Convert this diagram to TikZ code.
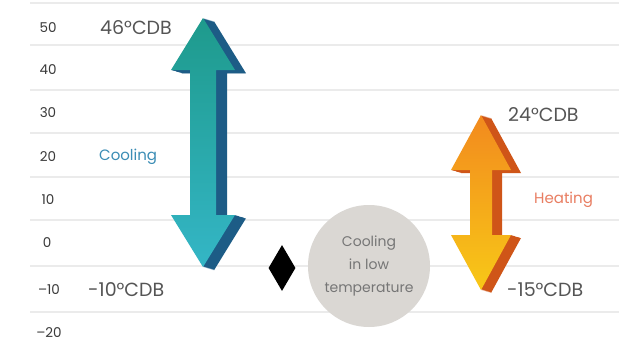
\documentclass[tikz,border=0pt]{standalone}
\usepackage{fontspec}
\setmainfont{Poppins}
\usetikzlibrary{shapes.geometric}
\definecolor{gridc}{HTML}{EBEBEB}
\definecolor{tickc}{HTML}{3A3A3A}
\definecolor{labc}{HTML}{555555}
\definecolor{coolt}{HTML}{3B8DB5}
\definecolor{heatt}{HTML}{E97E62}
\definecolor{tealtop}{HTML}{1E9A8C}
\definecolor{tealbot}{HTML}{34B6C6}
\definecolor{tealside}{HTML}{1D5C86}
\definecolor{orgtop}{HTML}{F28A1E}
\definecolor{orgbot}{HTML}{F8C817}
\definecolor{orgside}{HTML}{CF5518}
\definecolor{circc}{HTML}{DAD7D3}
\definecolor{circt}{HTML}{767676}
\newcommand\dblarrowpath[6]{(#1,#2) -- (#1+#4,#2+#5) -- (#1+#6,#2+#5) -- (#1+#6,#3-#5) -- (#1+#4,#3-#5) -- (#1,#3) -- (#1-#4,#3-#5) -- (#1-#6,#3-#5) -- (#1-#6,#2+#5) -- (#1-#4,#2+#5) -- cycle}
\tikzset{
  gridline/.style={gridc, line width=1.6pt},
  ticklab/.style={text=tickc, font=\fontsize{13.5}{14}\selectfont, anchor=center, inner sep=0},
  templab/.style={text=labc, font=\fontsize{19}{20}\selectfont, inner sep=0},
  modelab/.style={font=\fontsize{15}{16}\selectfont, anchor=west, inner sep=0},
}
\begin{document}
\begin{tikzpicture}[x=1pt,y=-1pt]
\useasboundingbox (0,0) rectangle (619,346);
\fill[white] (0,0) rectangle (619,346);
% grid lines
\foreach \y in {3,45,90,133,177,220,266,312}
  \draw[gridline] (30,\y) -- (619,\y);
% tick labels
\node[ticklab] (t50) at (48,28) {50};
\node[ticklab] (t40) at (48,70) {40};
\node[ticklab] (t30) at (48,113) {30};
\node[ticklab] (t20) at (48,157) {20};
\node[ticklab] (t10) at (48,200) {10};
\node[ticklab] (t0) at (47,243) {0};
\node[ticklab] (tm10) at (49,290) {–10};
\node[ticklab] (tm20) at (49,333) {–20};
% cooling arrow
\foreach \d in {1,...,11}
  \fill[tealside, xshift=\d pt, yshift=-0.3*\d pt] \dblarrowpath{203}{18}{267}{32}{52}{13};
\shade[top color=tealtop, bottom color=tealbot] \dblarrowpath{203}{18}{267}{32}{52}{13};
% heating arrow
\foreach \d in {1,...,10}
  \fill[orgside, xshift=\d pt, yshift=-0.3*\d pt] \dblarrowpath{481}{115}{290}{30}{55}{11};
\shade[top color=orgtop, bottom color=orgbot] \dblarrowpath{481}{115}{290}{30}{55}{11};
% labels
\node[templab, anchor=west] (c46) at (100,28) {46°CDB};
\node[templab, anchor=west] (cm10) at (88,290) {-10°CDB};
\node[templab, anchor=west] (h24) at (508,115) {24°CDB};
\node[templab, anchor=west] (hm15) at (507,290) {-15°CDB};
\node[modelab, text=coolt] (cool) at (99,157) {Cooling};
\node[modelab, text=heatt] (heat) at (534,200) {Heating};
% diamond
\node[diamond, fill=black, minimum width=27pt, minimum height=46pt, inner sep=0, aspect=0.6] (dia) at (282,268) {};
% circle
\node[circle, fill=circc, minimum size=122pt, inner sep=0, text=circt, align=center,
  font=\fontsize{14}{23}\selectfont] (low) at (369,266) {Cooling\\in low\\temperature};
\end{tikzpicture}
\end{document}
